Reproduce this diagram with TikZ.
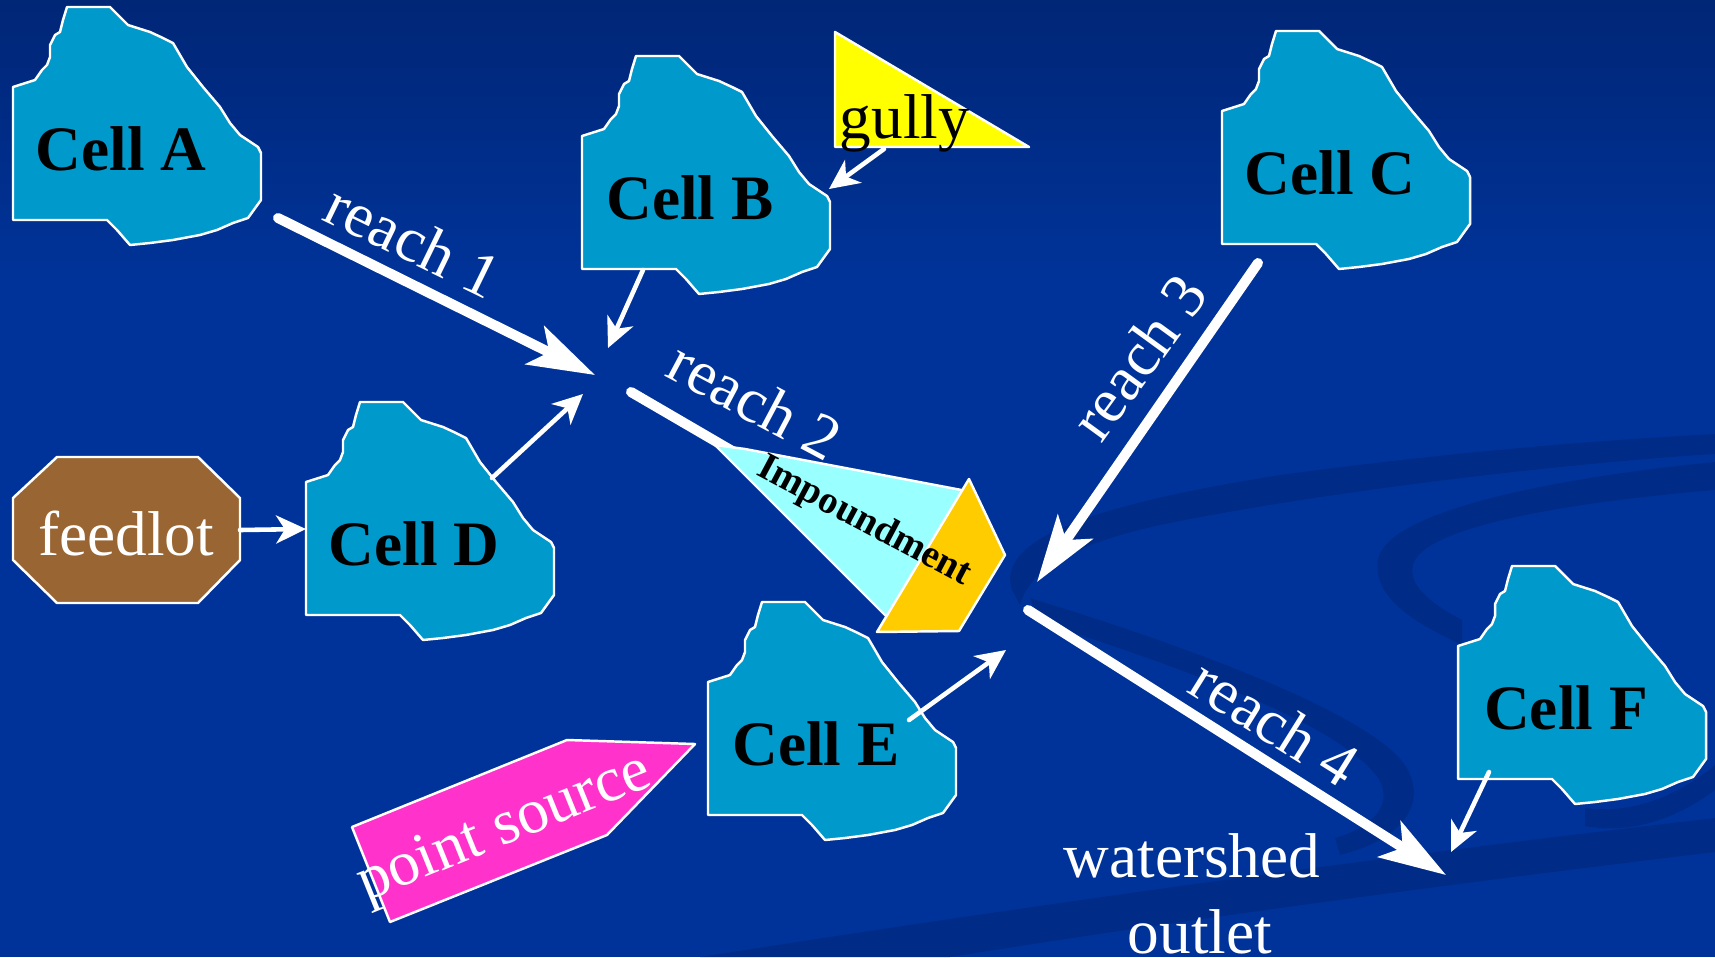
\documentclass[tikz,border=0pt]{standalone}
\usepackage{fontspec}
\setmainfont{Liberation Serif}
\usetikzlibrary{arrows.meta}

\definecolor{bgblue}{RGB}{0,51,153}
\definecolor{bgtop}{RGB}{0,38,118}
\definecolor{bandblue}{RGB}{0,44,136}
\definecolor{cellblue}{RGB}{0,153,204}
\definecolor{feedbrown}{RGB}{153,102,51}
\definecolor{srcpink}{RGB}{255,51,204}
\definecolor{poolcyan}{RGB}{153,255,255}
\definecolor{damgold}{RGB}{255,204,0}
\definecolor{gullyyellow}{RGB}{255,255,0}

\newcommand\bigtxt{\fontsize{18}{21}\selectfont}

\begin{document}
\begin{tikzpicture}[x=0.01cm, y=-0.01cm,
  band/.style={fill=bandblue},
  cellshape/.style={fill=cellblue, draw=white, line width=0.7pt, line join=round},
  celllabel/.style={font=\bfseries\bigtxt, text=black, anchor=base, inner sep=0pt},
  plain/.style={font=\bigtxt, text=white, inner sep=0pt},
  outlined/.style={draw=white, line width=0.7pt, line join=round},
  reach/.style={draw=white, line width=2.85pt, line cap=round,
    -{Stealth[length=19pt,width=12pt,inset=4.5pt]}},
  reachline/.style={draw=white, line width=2.85pt, line cap=round},
  feed/.style={draw=white, line width=1.3pt, line cap=round,
    -{Stealth[length=8.5pt,width=8pt,inset=2.5pt]}},
  cell/.pic={
    \draw[cellshape] (54,0) -- (97,0) -- (115,18) -- (137,25) -- (150,31)
      -- (160,36) -- (174,60) -- (190,80) -- (207,100) -- (217,116)
      -- (227,128) -- (245,140) -- (248,146) -- (248,193) -- (235,211)
      -- (220,216) -- (204,223) -- (187,228) -- (160,233) -- (137,236)
      -- (117,238) -- (104,223) -- (94,213) -- (0,213) -- (0,80)
      -- (22,73) -- (29,63) -- (34,58) -- (37,50) -- (37,38) -- (42,28)
      -- (47,25) -- (50,13) -- cycle;
    \node[celllabel] (-label) at (108,163) {\tikzpictext};
    \coordinate (-w) at (0,127);
    \coordinate (-s) at (61,214);
    \coordinate (-ne) at (186,76);
    \coordinate (-e) at (247,133);
    \coordinate (-in) at (201,118);
    \coordinate (-sw) at (31,206);
    \coordinate (-outse) at (265,211);
    \coordinate (-outsw) at (36,232);
  }
]
\useasboundingbox (0,0) rectangle (1715,957);
\clip (0,0) rectangle (1715,957);

% background with soft darker swooshes
\fill[bgblue] (0,0) rectangle (1715,957);
\fill[top color=bgtop, bottom color=bgblue] (0,0) rectangle (1715,280);
% swoosh curling round the confluence
\fill[band] (1012,590) .. controls (995,540) and (1090,505) .. (1280,475)
  .. controls (1450,452) and (1600,440) .. (1715,434) -- (1715,454)
  .. controls (1580,462) and (1330,490) .. (1160,525)
  .. controls (1070,545) and (1030,570) .. (1020,605) -- cycle;
% hook to the left of Cell F
\fill[band] (1715,462) .. controls (1550,478) and (1385,512) .. (1378,560)
  .. controls (1372,600) and (1420,625) .. (1462,645) -- (1462,620)
  .. controls (1430,603) and (1408,585) .. (1413,565)
  .. controls (1422,528) and (1560,503) .. (1715,490) -- cycle;
% arc under Cell F
\fill[band] (1585,808) .. controls (1630,814) and (1675,798) .. (1715,765)
  -- (1715,790) .. controls (1675,820) and (1630,834) .. (1585,826) -- cycle;
% tongue along reach 4
\fill[band] (1030,598) .. controls (1200,650) and (1370,715) .. (1405,765)
  .. controls (1430,805) and (1400,840) .. (1340,855) -- (1335,838)
  .. controls (1380,825) and (1392,800) .. (1378,778)
  .. controls (1340,725) and (1190,670) .. (1040,622) -- cycle;
% lower sweep
\fill[band] (700,957) .. controls (1000,910) and (1350,860) .. (1715,818)
  -- (1715,852) .. controls (1400,890) and (1150,925) .. (950,957) -- cycle;

% junction points and free ends
\coordinate (j1) at (595,375);
\coordinate (jB) at (608,348);
\coordinate (jD) at (583,394);
\coordinate (r2start) at (631,392);
\coordinate (r2end) at (770,473);
\coordinate (j3) at (1037,582);
\coordinate (jE) at (1006,650);
\coordinate (r4start) at (1028,610);
\coordinate (outletpt) at (1446,875);
\coordinate (jF) at (1451,852);

% reach 2 runs under the impoundment
\draw[reachline] (r2start) -- (r2end);

% impoundment
\draw[outlined, fill=poolcyan] (715,445) -- (745,449) -- (972,492) -- (890,620) -- cycle;
\draw[outlined, fill=damgold] (969,479) -- (1005,555) -- (959,631) -- (877,632) -- cycle;
\node[font=\bfseries\fontsize{11}{13}\selectfont, text=black, rotate=-28, inner sep=0pt]
  (impound) at (864,522) {Impoundment};

% sub-watershed cells
\pic[pic text={Cell A}] (A) at (13,7) {cell};
\pic[pic text={Cell B}] (B) at (582,56) {cell};
\pic[pic text={Cell C}] (C) at (1222,31) {cell};
\pic[pic text={Cell D}] (D) at (306,402) {cell};
\pic[pic text={Cell E}] (E) at (708,602) {cell};
\pic[pic text={Cell F}] (F) at (1458,566) {cell};

% feedlot
\draw[outlined, fill=feedbrown] (57,457) -- (198,457) -- (240,498) -- (240,560)
  -- (198,603) -- (57,603) -- (13,560) -- (13,498) -- cycle;
\node[plain, anchor=base] (feedlot) at (126,555) {feedlot};
\coordinate (feedlot-e) at (240,530);

% gully
\draw[outlined, fill=gullyyellow] (835,32) -- (1029,147) -- (835,147) -- cycle;
\node[font=\bigtxt, text=black, anchor=base, inner sep=0pt] (gully) at (905,138) {gully};
\coordinate (gully-s) at (884,149);

% point source
\draw[outlined, fill=srcpink] (352,827) -- (567,740) -- (695,744) -- (607,835) -- (390,922) -- cycle;
\node[plain, rotate=22] (psource) at (505,830) {point source};

% reaches
\draw[reach] (A-outse) -- (j1);
\draw[reach] (C-outsw) -- (j3);
\draw[reach] (r4start) -- (outletpt);

% local inflows
\draw[feed] (feedlot-e) -- (D-w);
\draw[feed] (D-ne) -- (jD);
\draw[feed] (B-s) -- (jB);
\draw[feed] (gully-s) -- (B-e);
\draw[feed] (E-in) -- (jE);
\draw[feed] (F-sw) -- (jF);

% labels
\node[plain, rotate=-26] (reach1) at (413,240) {reach 1};
\node[plain, rotate=-28] (reach2) at (755,400) {reach 2};
\node[plain, rotate=54] (reach3) at (1138,357) {reach 3};
\node[plain, rotate=-32] (reach4) at (1275,722) {reach 4};
\node[plain, anchor=base] (watershed) at (1192,877) {watershed};
\node[plain, anchor=base] (outlet) at (1200,953) {outlet};
\end{tikzpicture}
\end{document}
